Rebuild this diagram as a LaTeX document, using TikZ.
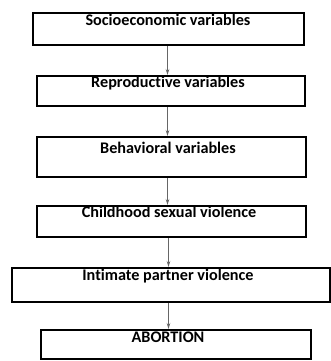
\documentclass[tikz,border=0pt]{standalone}
\usepackage{fontspec}
\setmainfont[Ligatures=NoCommon]{Carlito}
\usetikzlibrary{arrows.meta}
\begin{document}
\begin{tikzpicture}[x=1pt,y=-1pt,
  boxx/.style={draw=black,line width=2.4pt,inner sep=0pt,anchor=north west},
  lbl/.style={font=\bfseries\fontsize{16.2}{18}\selectfont,anchor=base,inner sep=0pt},
  conn/.style={draw=black!60,line width=0.7pt,-{Stealth[length=6pt,width=3.5pt]}}]
\useasboundingbox (0,0) rectangle (331,361);
\node[boxx,minimum width=271pt,minimum height=32pt] (b1) at (32,12) {};
\node[boxx,minimum width=268pt,minimum height=30pt] (b2) at (36,75) {};
\node[boxx,minimum width=269pt,minimum height=40pt] (b3) at (36,136) {};
\node[boxx,minimum width=269pt,minimum height=31pt] (b4) at (36,205) {};
\node[boxx,minimum width=318pt,minimum height=34pt] (b5) at (11,267) {};
\node[boxx,minimum width=270pt,minimum height=29pt] (b6) at (40,329) {};
\node[lbl] (t1) at (168,25.5) {Socioeconomic variables};
\node[lbl] (t2) at (168,87) {Reproductive variables};
\node[lbl] (t3) at (168,153) {Behavioral variables};
\node[lbl] (t4) at (169,217) {Childhood sexual violence};
\node[lbl] (t5) at (168,280) {Intimate partner violence};
\node[lbl] (t6) at (168,342) {ABORTION};
\draw[conn] (b1.south -| 167.5,0) -- (b2.north -| 167.5,0);
\draw[conn] (b2.south -| 167.5,0) -- (b3.north -| 167.5,0);
\draw[conn] (b3.south -| 167.5,0) -- (b4.north -| 167.5,0);
\draw[conn] (b4.south -| 168.5,0) -- (b5.north -| 168.5,0);
\draw[conn] (b5.south -| 168.5,0) -- (b6.north -| 168.5,0);
\end{tikzpicture}
\end{document}
